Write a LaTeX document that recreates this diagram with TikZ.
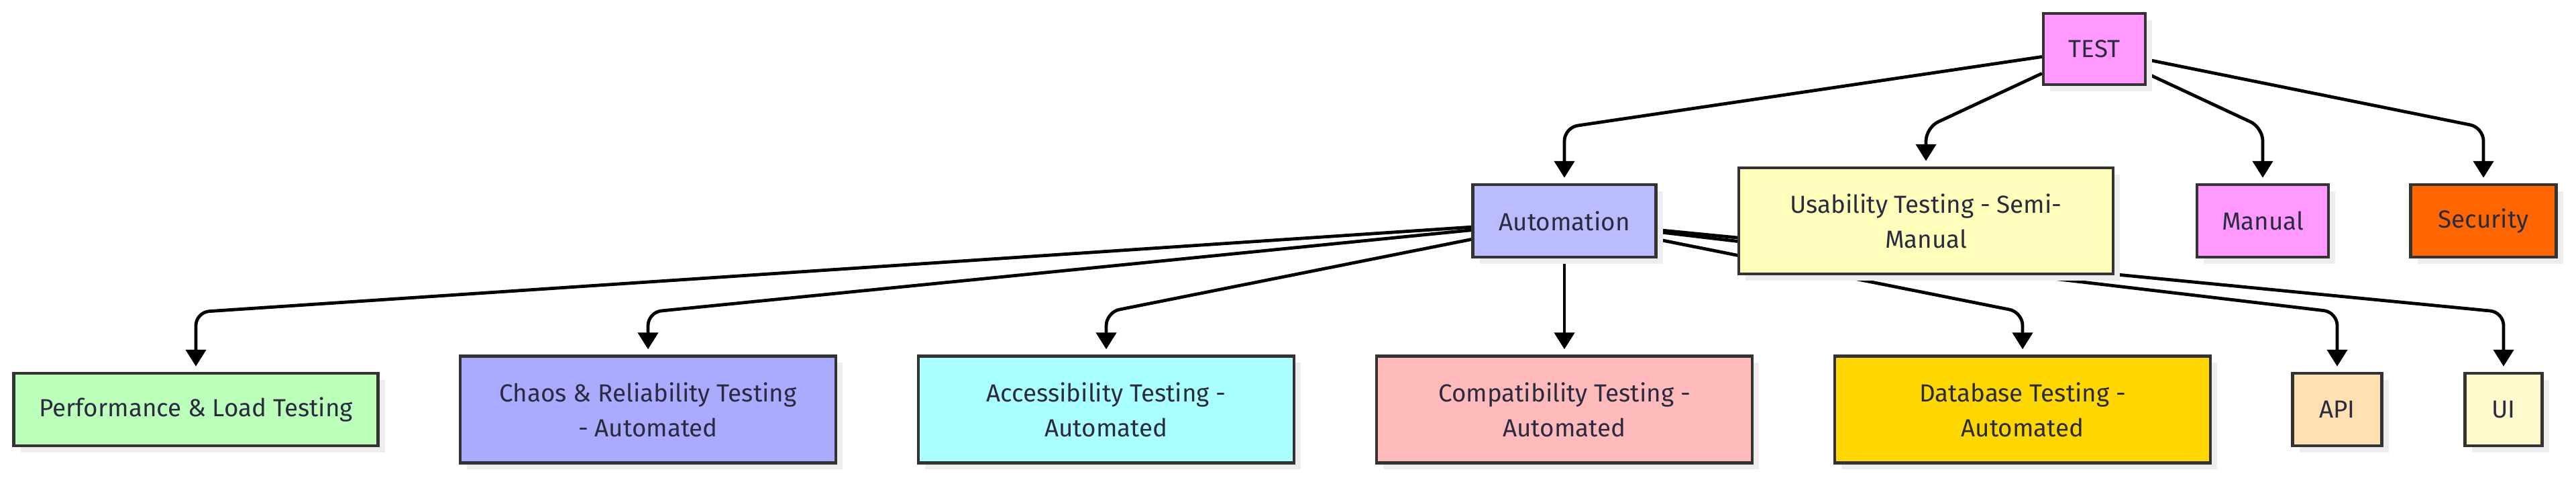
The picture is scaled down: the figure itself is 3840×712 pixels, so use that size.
\documentclass[tikz,border=0pt]{standalone}
\usepackage{fontspec}
\setmainfont{Fira Sans}
\usetikzlibrary{arrows.meta,shadows,backgrounds}
\definecolor{bordc}{HTML}{333333}
\definecolor{txtc}{HTML}{2B2B3F}
\definecolor{cTest}{HTML}{FF99FF}
\definecolor{cAuto}{HTML}{BBBBFF}
\definecolor{cUsab}{HTML}{FFFFBB}
\definecolor{cManual}{HTML}{FF99FF}
\definecolor{cSec}{HTML}{FF6600}
\definecolor{cPerf}{HTML}{BBFFBB}
\definecolor{cChaos}{HTML}{AAAAFF}
\definecolor{cAcc}{HTML}{AAFFFF}
\definecolor{cComp}{HTML}{FFBBBB}
\definecolor{cDb}{HTML}{FFD700}
\definecolor{cApi}{HTML}{FFE0B2}
\definecolor{cUi}{HTML}{FFFACD}
\tikzset{
  box/.style={draw=bordc, line width=1.1pt, text=txtc, align=center, inner sep=0pt,
    font=\fontsize{9.2}{13}\selectfont,
    drop shadow={shadow xshift=2.5pt, shadow yshift=-2.5pt, fill=black!7, opacity=1}},
  smallbox/.style={box, minimum height=27pt},
  bigbox/.style={box, minimum width=140pt, minimum height=39.75pt},
  edge/.style={line width=1.2pt, draw=black, -{Triangle[width=7.5pt,length=6.25pt]},
    shorten >=2pt, rounded corners=5pt},
}
\begin{document}
\begin{tikzpicture}[x=0.25pt,y=-0.25pt]
\useasboundingbox (0,0) rectangle (3840,712);
% top
\node[smallbox, fill=cTest, minimum width=38pt, minimum height=26.5pt] (test) at (3122,73) {TEST};
% row 1
\node[smallbox, fill=cAuto, minimum width=68.25pt] (auto) at (2332,329) {Automation};
\node[box, fill=cUsab, minimum width=139.5pt, minimum height=39.5pt] (usab) at (2871,329) {Usability Testing - Semi-\\Manual};
\node[smallbox, fill=cManual, minimum width=49pt] (manual) at (3373,329) {Manual};
\node[smallbox, fill=cSec, minimum width=54.25pt] (sec) at (3702,329) {Security};
% row 2
\node[smallbox, fill=cPerf, minimum width=135.75pt] (perf) at (292,610) {Performance \& Load Testing};
\node[bigbox, fill=cChaos] (chaos) at (966,610) {Chaos \& Reliability Testing\\- Automated};
\node[bigbox, fill=cAcc] (acc) at (1649,610) {Accessibility Testing -\\Automated};
\node[bigbox, fill=cComp] (comp) at (2332,610) {Compatibility Testing -\\Automated};
\node[bigbox, fill=cDb] (db) at (3015,610) {Database Testing -\\Automated};
\node[smallbox, fill=cApi, minimum width=33.25pt] (api) at (3484,610) {API};
\node[smallbox, fill=cUi, minimum width=28.75pt] (ui) at (3732,610) {UI};
\coordinate (b1) at (0,190);
\coordinate (b2) at (0,465);
\begin{scope}[on background layer]
\draw[edge] (test) -- (auto.north |- b1) -- (auto);
\draw[edge] (test) -- (usab.north |- b1) -- (usab);
\draw[edge] (test) -- (manual.north |- b1) -- (manual);
\draw[edge] (test) -- (sec.north |- b1) -- (sec);
\draw[edge] (auto) -- (perf.north |- b2) -- (perf);
\draw[edge] (auto) -- (chaos.north |- b2) -- (chaos);
\draw[edge] (auto) -- (acc.north |- b2) -- (acc);
\draw[edge] (auto.south) -- (comp.north);
\draw[edge] (auto) -- (db.north |- b2) -- (db);
\draw[edge] (auto) -- (api.north |- b2) -- (api);
\draw[edge] (auto) -- (ui.north |- b2) -- (ui);
\end{scope}
\end{tikzpicture}
\end{document}
